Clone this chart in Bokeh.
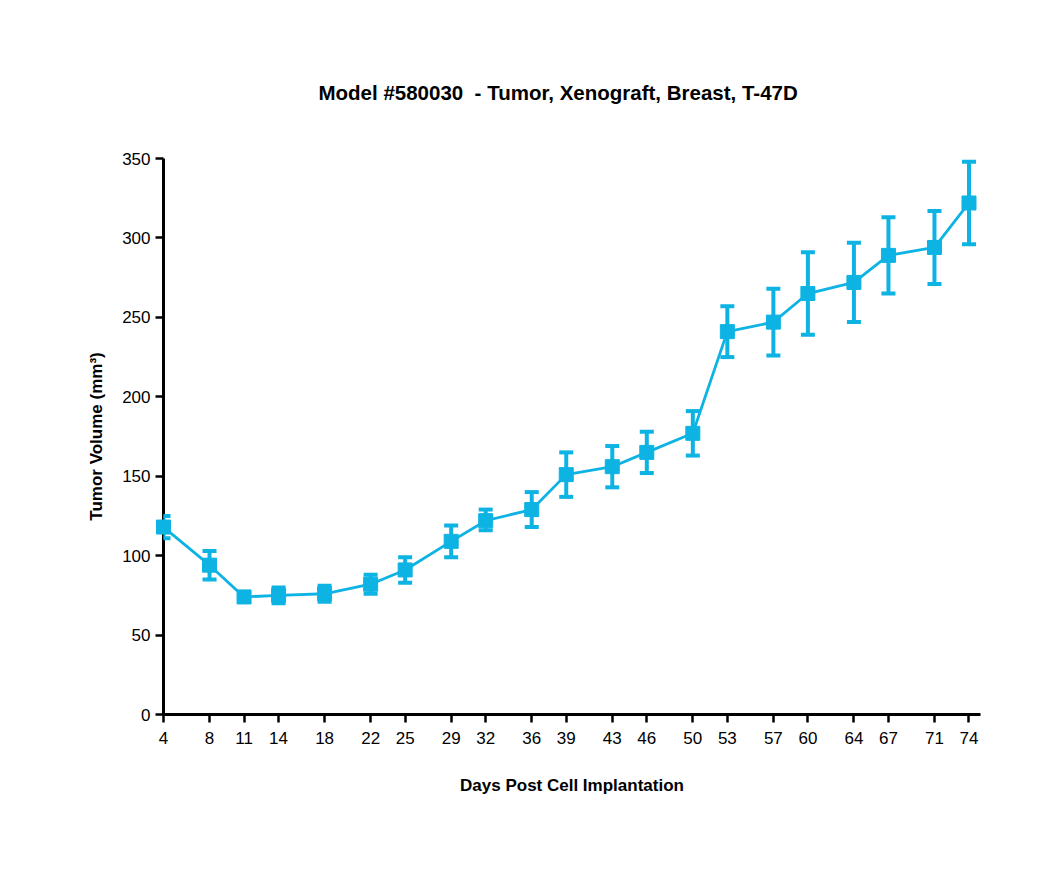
from bokeh.plotting import figure
from bokeh.models import ColumnDataSource, Range1d, FixedTicker, Whisker, TeeHead
from bokeh.embed import file_html
from bokeh.resources import INLINE

days = [4, 8, 11, 14, 18, 22, 25, 29, 32, 36, 39, 43, 46, 50, 53, 57, 60, 64, 67, 71, 74]
mean = [118, 94, 74, 75, 76, 82, 91, 109, 122, 129, 151, 156, 165, 177, 241, 247, 265, 272, 289, 294, 322]
lower = [111, 85, 71, 70, 71, 76, 83, 99, 116, 118, 137, 143, 152, 163, 225, 226, 239, 247, 265, 271, 296]
upper = [125, 103, 77, 80, 81, 88, 99, 119, 129, 140, 165, 169, 178, 191, 257, 268, 291, 297, 313, 317, 348]
y_ticks = [0, 50, 100, 150, 200, 250, 300, 350]

TITLE = "Model #580030\u00a0 - Tumor, Xenograft, Breast, T-47D"
COLOR = "#0DB3E3"
FONT = "Liberation Sans"

src = ColumnDataSource(dict(x=days, y=mean, lo=lower, hi=upper))

p = figure(width=1034, height=877, output_backend="svg", toolbar_location=None,
           x_range=Range1d(4, 75), y_range=Range1d(0, 350),
           min_border_left=163, min_border_right=54, min_border_top=158, min_border_bottom=163)

p.outline_line_color = None
p.grid.visible = False
p.background_fill_color = "white"
p.border_fill_color = "white"

p.title.text = TITLE
p.title.align = "left"
p.title.offset = 155
p.title.standoff = 110
p.title.text_font = FONT
p.title.text_font_size = "20.5px"
p.title.text_font_style = "bold"
p.title.text_color = "black"

for ax in (p.xaxis[0], p.yaxis[0]):
    ax.axis_line_width = 3
    ax.axis_line_color = "black"
    ax.major_tick_line_width = 2.5
    ax.major_tick_line_color = "black"
    ax.major_tick_out = 8
    ax.major_tick_in = 0
    ax.minor_tick_line_color = None
    ax.major_label_text_font = FONT
    ax.major_label_text_font_size = "17px"
    ax.major_label_text_color = "black"
    ax.axis_label_text_font = FONT
    ax.axis_label_text_font_size = "17px"
    ax.axis_label_text_font_style = "bold"
    ax.axis_label_text_color = "black"

p.xaxis.ticker = FixedTicker(ticks=days)
p.xaxis.axis_label = "Days Post Cell Implantation"
p.xaxis.major_label_standoff = 9
p.xaxis.axis_label_standoff = 29

p.yaxis.ticker = FixedTicker(ticks=y_ticks)
p.yaxis.axis_label = "Tumor Volume (mm³)"
p.yaxis.major_label_standoff = 5
p.yaxis.axis_label_standoff = 13

line_r = p.line("x", "y", source=src, line_color=COLOR, line_width=2.8)
line_r.level = "overlay"
wh = Whisker(base="x", lower="lo", upper="hi", source=src,
             line_color=COLOR, line_width=4,
             upper_head=TeeHead(size=14, line_color=COLOR, line_width=4),
             lower_head=TeeHead(size=14, line_color=COLOR, line_width=4))
wh.level = "overlay"
p.add_layout(wh)
pts = p.scatter("x", "y", source=src, marker="square", size=14, fill_color=COLOR, line_color=COLOR)
pts.level = "overlay"

open("out.html", "w").write(file_html(p, INLINE))
